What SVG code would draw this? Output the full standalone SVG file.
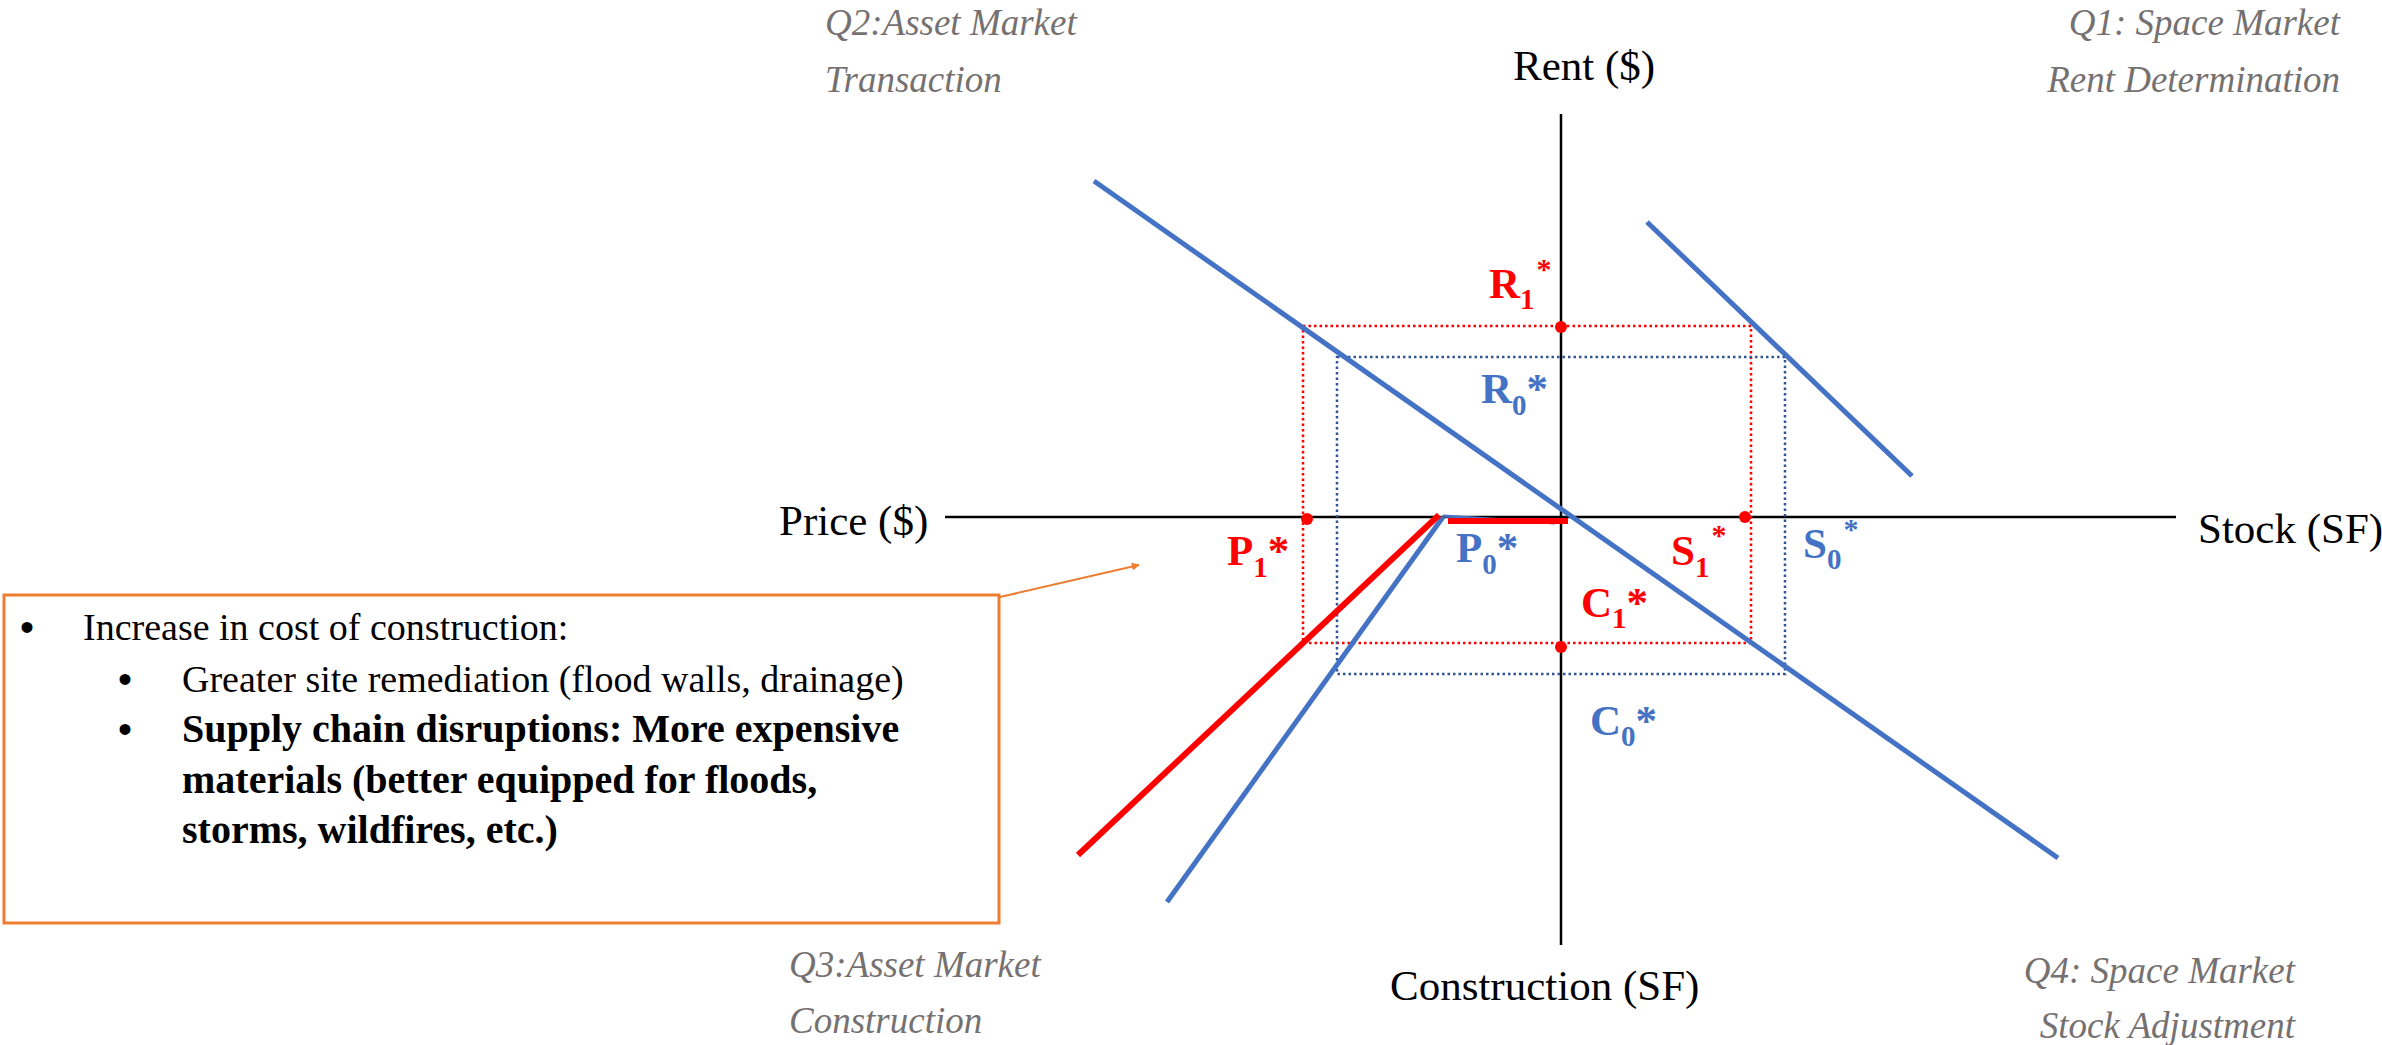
<svg xmlns="http://www.w3.org/2000/svg" width="2382" height="1045" viewBox="0 0 2382 1045">
<style>
.ax{stroke:#000;stroke-width:2.5;fill:none}
.bl{stroke:#4472C4;stroke-width:5;fill:none}
.rd{stroke:#FF0000;stroke-width:6;fill:none}
.rdot{stroke:#FF0000;stroke-width:2.5;fill:none;stroke-dasharray:2.5 3}
.bdot{stroke:#2F5597;stroke-width:2.5;fill:none;stroke-dasharray:2.5 3}
.q{font-family:"Liberation Serif",serif;font-style:italic;font-size:37px;fill:#767171}
.axl{font-family:"Liberation Serif",serif;font-size:43px;fill:#000}
.lr{font-family:"Liberation Serif",serif;font-weight:bold;font-size:43px;fill:#FF0000}
.lb{font-family:"Liberation Serif",serif;font-weight:bold;font-size:43px;fill:#4472C4}
.sub{font-size:29px}
.box{font-family:"Liberation Serif",serif;font-size:38px;fill:#000}
.bb{font-family:"Liberation Serif",serif;font-size:40px;font-weight:bold;fill:#000}
.bul{font-family:"Liberation Sans",sans-serif;font-size:40px;fill:#000}
.dotr{fill:#FF0000}
</style>
<defs>
<marker id="arr" viewBox="0 0 10 10" refX="9" refY="5" markerWidth="8" markerHeight="8" orient="auto" markerUnits="userSpaceOnUse">
<path d="M0,0 L10,5 L0,10 z" fill="#ED7D31"/>
</marker>
</defs>
<rect width="2382" height="1045" fill="#fff"/>
<g id="axes">
<line class="ax" x1="945" y1="517" x2="2176" y2="517"/>
<line class="ax" x1="1561" y1="114" x2="1561" y2="945"/>
</g>
<g id="connectors">
<rect class="rdot" x="1303" y="326" width="448" height="317"/>
<rect class="bdot" x="1337" y="357" width="448" height="317"/>
<line class="bl" x1="1094" y1="181" x2="2058" y2="858"/>
<line class="bl" x1="1647" y1="222" x2="1912" y2="476"/>
<line class="bl" x1="1167" y1="902" x2="1443" y2="517"/>
<line stroke="#4472C4" stroke-width="3" x1="1443" y1="516" x2="1555" y2="523"/>
<line class="rd" x1="1078" y1="855" x2="1439" y2="515"/>
<line class="rd" x1="1448" y1="521" x2="1568" y2="521"/>
<line stroke="#ED7D31" stroke-width="2" x1="1000" y1="597" x2="1139" y2="565" marker-end="url(#arr)"/>
</g>
<g id="points">
<circle class="dotr" cx="1561" cy="327" r="6"/>
<circle class="dotr" cx="1307" cy="519" r="6"/>
<circle class="dotr" cx="1745" cy="517" r="6"/>
<circle class="dotr" cx="1561" cy="647" r="6"/>
</g>
<g id="quadrant-labels">
<text class="q" x="825" y="35">Q2:Asset Market</text>
<text class="q" x="825" y="92">Transaction</text>
<text class="q" x="2340" y="35" text-anchor="end">Q1: Space Market</text>
<text class="q" x="2340" y="92" text-anchor="end">Rent Determination</text>
<text class="q" x="789" y="977">Q3:Asset Market</text>
<text class="q" x="789" y="1033">Construction</text>
<text class="q" x="2295" y="983" text-anchor="end">Q4: Space Market</text>
<text class="q" x="2295" y="1038" text-anchor="end">Stock Adjustment</text>
</g>
<g id="axis-labels">
<text class="axl" x="1513" y="80">Rent ($)</text>
<text class="axl" x="779" y="535">Price ($)</text>
<text class="axl" x="2198" y="543">Stock (SF)</text>
<text class="axl" x="1390" y="1000">Construction (SF)</text>
</g>
<g id="value-labels">
<text class="lr" x="1489" y="298">R<tspan class="sub" dy="11">1</tspan><tspan dx="2" dy="-30" font-size="30">*</tspan></text>
<text class="lb" x="1481" y="403">R<tspan class="sub" dy="12">0</tspan><tspan dy="-12">*</tspan></text>
<text class="lr" x="1227" y="565">P<tspan class="sub" dy="12">1</tspan><tspan dy="-12">*</tspan></text>
<text class="lb" x="1456" y="562">P<tspan class="sub" dy="12">0</tspan><tspan dy="-12">*</tspan></text>
<text class="lr" x="1671" y="565">S<tspan class="sub" dy="12">1</tspan><tspan dx="2" dy="-32" font-size="30">*</tspan></text>
<text class="lb" x="1803" y="558">S<tspan class="sub" dy="11">0</tspan><tspan dx="2" dy="-30" font-size="30">*</tspan></text>
<text class="lr" x="1581" y="617">C<tspan class="sub" dy="11">1</tspan><tspan dy="-11">*</tspan></text>
<text class="lb" x="1590" y="735">C<tspan class="sub" dy="11">0</tspan><tspan dy="-11">*</tspan></text>
</g>
<g id="note-box">
<rect x="4" y="595" width="995" height="328" fill="none" stroke="#ED7D31" stroke-width="3"/>
<text class="bul" x="20" y="641">•</text>
<text class="box" x="83" y="640">Increase in cost of construction:</text>
<text class="bul" x="118" y="693">•</text>
<text class="box" x="182" y="692">Greater site remediation (flood walls, drainage)</text>
<text class="bul" x="118" y="743">•</text>
<text class="bb" x="182" y="742">Supply chain disruptions: More expensive</text>
<text class="bb" x="182" y="793">materials (better equipped for floods,</text>
<text class="bb" x="182" y="843">storms, wildfires, etc.)</text>
</g>
</svg>
